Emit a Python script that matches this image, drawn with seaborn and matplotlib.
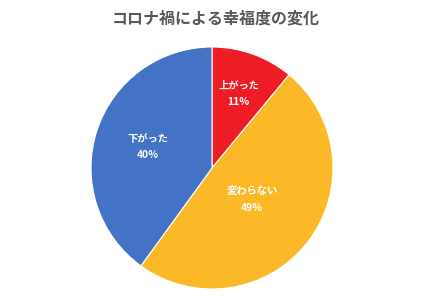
import numpy as np
import matplotlib
matplotlib.use("Agg")
import matplotlib.pyplot as plt
import seaborn as sns

categories = ["上がった", "変わらない", "下がった"]
values = [11, 49, 40]
colors = ["#EE1C25", "#FBB827", "#4472C4"]
label_dist = [0.65, 0.42, 0.56]

sns.set_theme(style="white")
plt.rcParams['font.family'] = ['Noto Sans CJK JP', 'DejaVu Sans']

fig = plt.figure(figsize=(4.32, 3.01), dpi=100)
fig.patch.set_facecolor("white")
cx, cy, r = 212, 168, 121
ax = fig.add_axes([(cx - r) / 432, (301 - cy - r) / 301, 2 * r / 432, 2 * r / 301])

wedges, _ = ax.pie(values, colors=colors, startangle=90, counterclock=False,
                   wedgeprops=dict(edgecolor="white", linewidth=0.8))
ax.set_aspect("equal")
ax.set_xlim(-1, 1)
ax.set_ylim(-1, 1)

for w, cat, v, d in zip(wedges, categories, values, label_dist):
    ang = np.deg2rad((w.theta1 + w.theta2) / 2)
    x, y = d * np.cos(ang), d * np.sin(ang)
    ax.text(x, y, f"{cat}\n{v}%", ha="center", va="center", color="white",
            fontsize=7.4, fontweight="bold", linespacing=1.85)

fig.suptitle("コロナ禍による幸福度の変化", y=1 - 18 / 301, va="center",
             fontsize=11.5, fontweight="bold", color="#595959")

fig.savefig("out.png", dpi=100, facecolor="white")
